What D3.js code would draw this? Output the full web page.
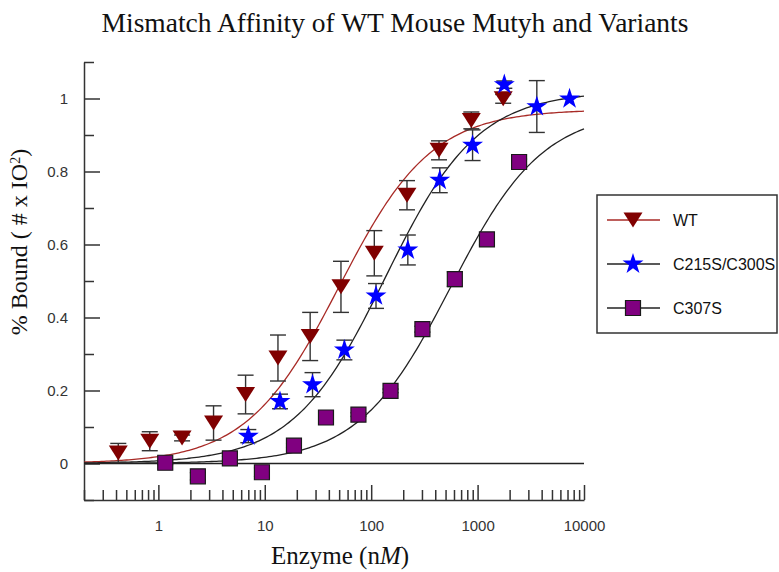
<!DOCTYPE html>
<html>
<head>
<meta charset="utf-8">
<script src="https://cdn.jsdelivr.net/npm/d3@7"></script>
<style>
  body { margin: 0; background: #fff; }
  svg { display: block; }
</style>
</head>
<body>
<svg id="chart" width="779" height="572"></svg>
<script>
// WT (inverted triangles)
var wtConc = [0.42, 0.83, 1.67, 3.3, 6.6, 13.3, 26.7, 52, 107, 217, 434, 873, 1740];
var wtBound = [0.029, 0.061, 0.07, 0.111, 0.189, 0.289, 0.348, 0.484, 0.576, 0.735, 0.858, 0.94, 0.999];
var wtErr = [0.026, 0.026, 0.008, 0.047, 0.053, 0.063, 0.066, 0.07, 0.062, 0.04, 0.026, 0.023, 0.012];

// C215S/C300S (stars)
var dblConc = [7, 13.9, 28.1, 56, 111, 221, 441, 897, 1783, 3603, 7313];
var dblBound = [0.075, 0.17, 0.216, 0.311, 0.459, 0.585, 0.776, 0.872, 1.038, 0.978, 0.999];
var dblErr = [0.018, 0.02, 0.033, 0.027, 0.034, 0.041, 0.034, 0.042, 0.01, 0.071, 0];

// C307S (squares)
var c307Conc = [1.16, 2.35, 4.7, 9.4, 18.8, 37.6, 75.9, 152, 303, 611, 1224, 2455];
var c307Bound = [0.002, -0.035, 0.014, -0.024, 0.049, 0.126, 0.134, 0.199, 0.368, 0.505, 0.614, 0.826];
var c307Err = [0.005, 0.01, 0.005, 0.012, 0.005, 0.005, 0.005, 0.005, 0.008, 0.02, 0.015, 0.008];

// fitted binding curves: [Bmax, Kd (nM)]
var wtFit = [0.97, 50];
var dblFit = [1.02, 136];
var c307Fit = [0.968, 560];

var seriesNames = ["WT", "C215S/C300S", "C307S"];
var xMajorTicks = [1, 10, 100, 1000, 10000];
var yMajorTicks = [0, 0.2, 0.4, 0.6, 0.8, 1];

var svg = d3.select("#chart");

var x = d3.scaleLog().domain([0.2, 10000]).range([84, 584]);
var y = d3.scaleLinear().domain([-0.1, 1.1]).range([500, 62]);

var axisColor = "#333";
var serif = "'Liberation Serif', 'DejaVu Serif', serif";

// title
svg.append("text")
  .attr("x", 395).attr("y", 32)
  .attr("text-anchor", "middle")
  .style("font-family", serif)
  .style("font-size", "27.5px")
  .attr("fill", "#111")
  .text("Mismatch Affinity of WT Mouse Mutyh and Variants");

// zero line
svg.append("line")
  .attr("x1", x.range()[0]).attr("x2", x.range()[1])
  .attr("y1", y(0)).attr("y2", y(0))
  .attr("stroke", "#222").attr("stroke-width", 1.3);

// minor ticks
var xMinor = [];
[-1, 0, 1, 2, 3].forEach(function (k) {
  for (var d = 2; d <= 9; d++) {
    var v = d * Math.pow(10, k);
    if (v >= 0.2 && v <= 10000) xMinor.push(v);
  }
});
var yMinor = d3.range(-1, 12).map(function (i) { return i / 10; })
  .filter(function (v) { return Math.round(v * 10) % 2 !== 0; });

var xAxisG = svg.append("g").attr("transform", "translate(0," + y.range()[0] + ")");
xAxisG.call(d3.axisBottom(x).tickValues(xMajorTicks).tickSize(-15).tickSizeOuter(0)
  .tickPadding(20).tickFormat(d3.format("d")));
var xMinorG = svg.append("g").attr("transform", "translate(0," + y.range()[0] + ")");
xMinorG.call(d3.axisBottom(x).tickValues(xMinor).tickSize(-10).tickFormat(""));
xMinorG.select(".domain").remove();

var yAxisG = svg.append("g").attr("transform", "translate(" + x.range()[0] + ",0)");
yAxisG.call(d3.axisLeft(y).tickValues(yMajorTicks).tickSize(-16).tickSizeOuter(0)
  .tickPadding(16).tickFormat(function (d) { return d === 0 ? "0" : String(+d.toFixed(1)); }));
var yMinorG = svg.append("g").attr("transform", "translate(" + x.range()[0] + ",0)");
yMinorG.call(d3.axisLeft(y).tickValues(yMinor).tickSize(-10).tickFormat(""));
yMinorG.select(".domain").remove();

svg.selectAll(".domain, .tick line")
  .attr("stroke", axisColor).attr("stroke-width", 1.5);
svg.selectAll(".tick text")
  .attr("fill", "#333")
  .style("font-family", "Arial, 'Liberation Sans', sans-serif")
  .style("font-size", "15px");

// axis titles
var yTitle = svg.append("text")
  .attr("transform", "translate(27,242) rotate(-90)")
  .attr("text-anchor", "middle")
  .style("font-family", serif)
  .style("font-size", "24px")
  .attr("fill", "#111");
yTitle.append("tspan").text("% Bound ( # x IO");
yTitle.append("tspan").attr("baseline-shift", "super").style("font-size", "14px").text("2");
yTitle.append("tspan").text(")");

var xTitle = svg.append("text")
  .attr("x", 340).attr("y", 564)
  .attr("text-anchor", "middle")
  .style("font-family", serif)
  .style("font-size", "25px")
  .attr("fill", "#111");
xTitle.append("tspan").text("Enzyme (n");
xTitle.append("tspan").style("font-style", "italic").text("M");
xTitle.append("tspan").text(")");

// fitted curves
var curveX = d3.range(0, 201).map(function (i) {
  return Math.pow(10, Math.log10(0.2) + i * (Math.log10(10000) - Math.log10(0.2)) / 200);
});
function hill(p) {
  return function (c) { return p[0] * c / (p[1] + c); };
}
var line = d3.line()
  .x(function (d) { return x(d[0]); })
  .y(function (d) { return y(d[1]); });

[[wtFit, "#a82a26"], [dblFit, "#222"], [c307Fit, "#222"]].forEach(function (f) {
  var h = hill(f[0]);
  svg.append("path")
    .datum(curveX.map(function (c) { return [c, h(c)]; }))
    .attr("d", line)
    .attr("fill", "none")
    .attr("stroke", f[1])
    .attr("stroke-width", 1.3);
});

// marker shapes
var triPath = "M-9.5,-7.5L9.5,-7.5L0,7.5Z";
var starPath = d3.symbol().type(d3.symbolStar).size(136)();
var sqPath = "M-7.5,-7.5H7.5V7.5H-7.5Z";

var series = [
  { conc: wtConc, bound: wtBound, err: wtErr, path: triPath, fill: "#800000", stroke: "none", line: "#a82a26" },
  { conc: dblConc, bound: dblBound, err: dblErr, path: starPath, fill: "#0000ff", stroke: "none", line: "#222" },
  { conc: c307Conc, bound: c307Bound, err: c307Err, path: sqPath, fill: "#800080", stroke: "#1a1a1a", line: "#222" }
];

series.forEach(function (s) {
  var pts = s.conc.map(function (c, i) { return { c: c, b: s.bound[i], e: s.err[i] }; });
  var g = svg.append("g");
  // error bars
  var eb = g.selectAll(".eb").data(pts.filter(function (d) { return d.e > 0; }))
    .enter().append("g").attr("class", "eb")
    .attr("stroke", "#333").attr("stroke-width", 1.4);
  eb.append("line")
    .attr("x1", function (d) { return x(d.c); }).attr("x2", function (d) { return x(d.c); })
    .attr("y1", function (d) { return y(d.b - d.e); }).attr("y2", function (d) { return y(d.b + d.e); });
  [-1, 1].forEach(function (sgn) {
    eb.append("line")
      .attr("x1", function (d) { return x(d.c) - 8; }).attr("x2", function (d) { return x(d.c) + 8; })
      .attr("y1", function (d) { return y(d.b + sgn * d.e); })
      .attr("y2", function (d) { return y(d.b + sgn * d.e); });
  });
  // markers
  g.selectAll(".mk").data(pts).enter().append("path")
    .attr("class", "mk")
    .attr("d", s.path)
    .attr("transform", function (d) { return "translate(" + x(d.c) + "," + y(d.b) + ")"; })
    .attr("fill", s.fill)
    .attr("stroke", s.stroke)
    .attr("stroke-width", 1.2);
});

// legend
var legend = svg.append("g");
legend.append("rect")
  .attr("x", 597).attr("y", 195).attr("width", 180).attr("height", 138)
  .attr("fill", "#fff").attr("stroke", "#333").attr("stroke-width", 1.5);
seriesNames.forEach(function (name, i) {
  var ly = 220 + i * 44;
  var s = series[i];
  legend.append("line")
    .attr("x1", 607).attr("x2", 660).attr("y1", ly).attr("y2", ly)
    .attr("stroke", s.line).attr("stroke-width", 1.3);
  legend.append("path")
    .attr("d", s.path)
    .attr("transform", "translate(633," + ly + ")")
    .attr("fill", s.fill).attr("stroke", s.stroke).attr("stroke-width", 1.2);
  legend.append("text")
    .attr("x", 673).attr("y", ly)
    .attr("dy", "0.35em")
    .style("font-family", "Arial, 'Liberation Sans', sans-serif")
    .style("font-size", "16px")
    .attr("fill", "#111")
    .text(name);
});
</script>
</body>
</html>
